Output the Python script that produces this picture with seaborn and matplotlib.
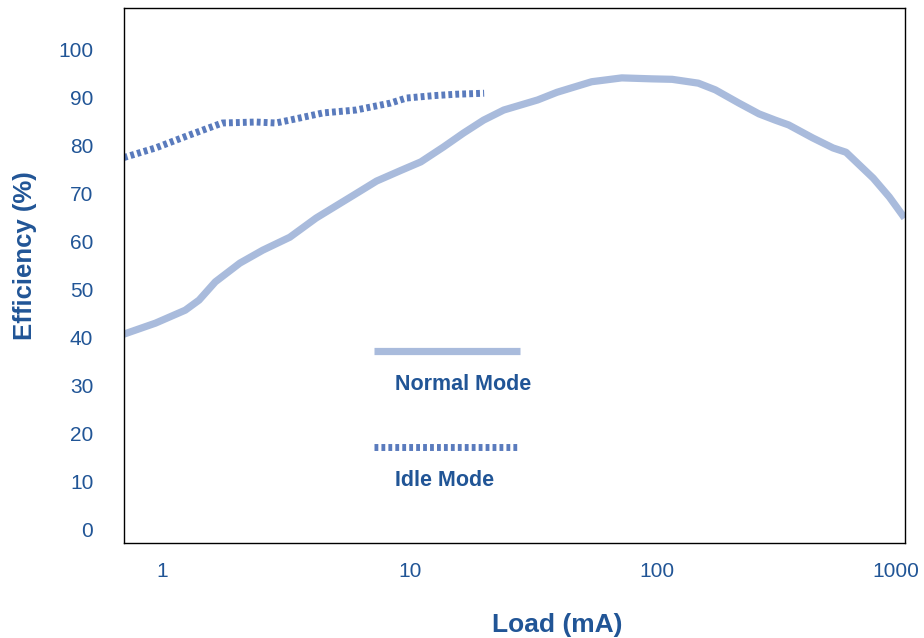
import pandas as pd
import seaborn as sns
import matplotlib.pyplot as plt
import matplotlib.transforms as mtransforms

# values
normal_load = [0.7, 0.94, 1.24, 1.41, 1.64, 2.06, 2.55, 3.28, 4.19, 5.91, 7.35, 9.2, 11.1, 13.7,
               16.5, 19.9, 24.0, 32.9, 39.4, 54.4, 72.0, 95.0, 115.0, 146.7, 172.0, 214.0,
               258.0, 300.0, 340.0, 425.0, 514.0, 580.0, 747.0, 867.0, 1000.0]
normal_eff = [40.6, 42.9, 45.6, 47.7, 51.5, 55.4, 58.1, 60.8, 64.8, 69.5, 72.5, 74.7, 76.5, 79.6,
              82.5, 85.2, 87.3, 89.4, 91.0, 93.2, 94.0, 93.8, 93.7, 92.9, 91.5, 88.75,
              86.5, 85.2, 84.2, 81.5, 79.4, 78.5, 73.1, 69.2, 64.8]

idle_load = [0.7, 0.94, 1.29, 1.75, 2.39, 2.88, 3.28, 4.47, 6.06, 8.37, 9.7, 12.5, 15.5, 20.0]
idle_eff = [77.4, 79.4, 82.1, 84.6, 84.8, 84.6, 85.2, 86.7, 87.3, 88.75, 89.8, 90.3, 90.6, 90.8]

x_ticks = [1, 10, 100, 1000]
y_ticks = [0, 10, 20, 30, 40, 50, 60, 70, 80, 90, 100]

normal_df = pd.DataFrame({"load": normal_load, "eff": normal_eff})
idle_df = pd.DataFrame({"load": idle_load, "eff": idle_eff})

sns.set_style("white")
plt.rcParams["font.family"] = ["Liberation Sans", "DejaVu Sans"]

text_blue = "#215596"
normal_col = "#a9bbdc"
idle_col = "#5a7bbd"

fig = plt.figure(figsize=(9.24, 6.38), dpi=100)
ax = fig.add_axes([0.134, 0.149, 0.845, 0.838])

sns.lineplot(data=normal_df, x="load", y="eff", ax=ax, color=normal_col, lw=5.2,
             solid_capstyle="butt", solid_joinstyle="round", sort=False)
sns.lineplot(data=idle_df, x="load", y="eff", ax=ax, color=idle_col, lw=5.0,
             linestyle=(0, (0.55, 0.45)), dash_capstyle="butt", sort=False)

ax.set_xscale("log")
ax.set_xlim(0.7, 1000)
ax.set_ylim(-2.9, 108.5)
ax.set_xticks(x_ticks)
ax.set_xticklabels([str(t) for t in x_ticks])
ax.minorticks_off()
ax.set_yticks(y_ticks)
ax.tick_params(axis="both", length=0, labelsize=15, labelcolor=text_blue)
ax.tick_params(axis="y", pad=22)
ax.tick_params(axis="x", pad=14)
ax.set_xlabel("")
ax.set_ylabel("")

# nudge the last x label left so it stays inside the figure
last = ax.get_xticklabels()[-1]
last.set_transform(last.get_transform() +
                   mtransforms.ScaledTranslation(-6 / 72, 0, fig.dpi_scale_trans))

for s in ax.spines.values():
    s.set_color("black")
    s.set_linewidth(1.0)
    s.set_visible(True)

# hand-drawn style legend inside the plot
ax.plot([0.321, 0.507], [0.359, 0.359], transform=ax.transAxes, color=normal_col,
        lw=5.2, solid_capstyle="butt")
ax.text(0.347, 0.297, "Normal Mode", transform=ax.transAxes, fontsize=15.5,
        fontweight="bold", color=text_blue, va="center", ha="left")
ax.plot([0.321, 0.505], [0.179, 0.179], transform=ax.transAxes, color=idle_col,
        lw=5.0, linestyle=(0, (0.55, 0.45)), dash_capstyle="butt")
ax.text(0.347, 0.116, "Idle Mode", transform=ax.transAxes, fontsize=15.5,
        fontweight="bold", color=text_blue, va="center", ha="left")

fig.text(0.603, 0.021, "Load (mA)", fontsize=19, fontweight="bold", color=text_blue,
         ha="center", va="center")
fig.text(0.027, 0.60, "Efficiency (%)", fontsize=18.5, fontweight="bold", color=text_blue,
         ha="center", va="center", rotation=90)

fig.savefig("out.png", dpi=100)
